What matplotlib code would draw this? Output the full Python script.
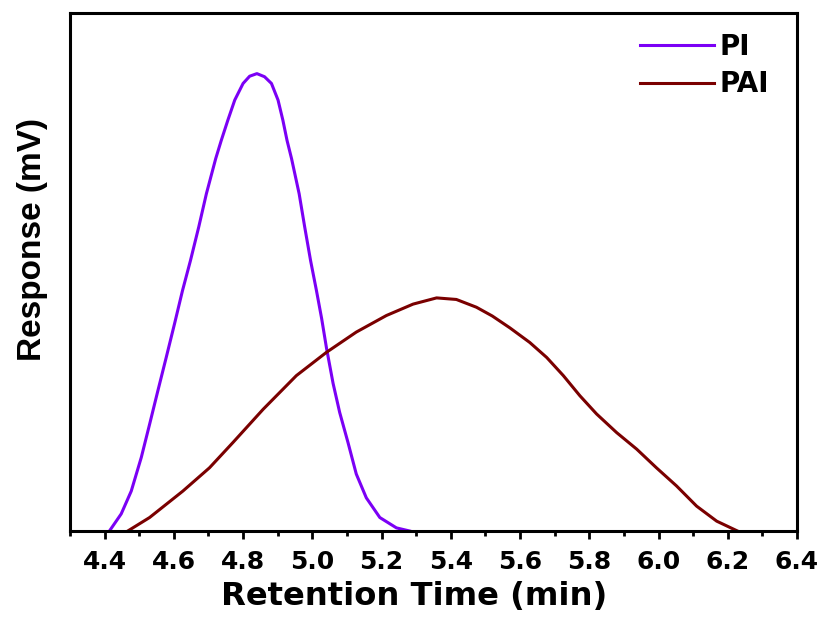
import matplotlib
matplotlib.use("Agg")
import matplotlib.pyplot as plt
from matplotlib.ticker import MultipleLocator

plt.rcParams['font.family'] = ['DejaVu Sans']
plt.rcParams['font.weight'] = 'bold'

# PI curve (retention time in min, response in arbitrary units)
pi_time = [4.414, 4.448, 4.477, 4.506, 4.530, 4.554, 4.578, 4.602, 4.625, 4.648,
           4.672, 4.694, 4.721, 4.737, 4.756, 4.776, 4.800, 4.819, 4.840, 4.862,
           4.882, 4.901, 4.915, 4.927, 4.940, 4.962, 4.978, 4.995, 5.012, 5.027,
           5.041, 5.060, 5.079, 5.103, 5.127, 5.156, 5.195, 5.243, 5.281]
pi_resp = [0.0, 3.3, 7.7, 14.2, 20.6, 27.1, 33.5, 40.0, 46.4, 52.2,
           58.7, 65.1, 71.9, 75.4, 79.3, 83.2, 86.4, 87.8, 88.3, 87.7,
           86.4, 83.2, 79.3, 75.4, 71.9, 65.1, 58.7, 52.2, 46.4, 41.0,
           35.3, 28.5, 22.9, 17.1, 11.0, 6.4, 2.6, 0.6, 0.0]

# PAI curve
pai_time = [4.467, 4.530, 4.626, 4.703, 4.771, 4.858, 4.954, 5.041, 5.127, 5.214,
            5.291, 5.359, 5.416, 5.474, 5.520, 5.571, 5.628, 5.677, 5.725, 5.773,
            5.821, 5.879, 5.937, 5.994, 6.052, 6.110, 6.168, 6.228]
pai_resp = [0.0, 2.6, 7.7, 12.2, 17.1, 23.5, 30.0, 34.5, 38.4, 41.6,
            43.8, 45.0, 44.7, 43.2, 41.5, 39.2, 36.4, 33.5, 30.0, 26.1,
            22.6, 19.0, 15.8, 12.2, 8.7, 4.8, 1.9, 0.0]

fig = plt.figure(figsize=(8.26, 6.17), dpi=100)
ax = fig.add_axes([0.0847, 0.1394, 0.8802, 0.8395])

ax.plot(pi_time, pi_resp, color='#7B00F5', linewidth=2.2, label='PI')
ax.plot(pai_time, pai_resp, color='#7A0000', linewidth=2.2, label='PAI')

ax.set_xlim(4.3, 6.4)
ax.set_ylim(0, 100)
ax.xaxis.set_major_locator(MultipleLocator(0.2))
ax.xaxis.set_minor_locator(MultipleLocator(0.1))
ax.set_yticks([])
ax.tick_params(axis='x', which='major', direction='out', length=6, width=2,
               labelsize=18, pad=8)
ax.tick_params(axis='x', which='minor', direction='out', length=3.5, width=2)
for lbl in ax.get_xticklabels():
    lbl.set_fontweight('bold')
for sp in ax.spines.values():
    sp.set_linewidth(2.2)

ax.set_xlabel('Retention Time (min)', fontsize=23.2, fontweight='bold')
ax.xaxis.set_label_coords(0.473, -0.097)
ax.set_ylabel('Response (mV)', fontsize=24, fontweight='bold',
              family=['Liberation Sans', 'DejaVu Sans'])
ax.yaxis.set_label_coords(-0.03, 0.562)

leg = ax.legend(loc='upper left', bbox_to_anchor=(0.784, 0.962), frameon=False,
                fontsize=20, handlelength=2.65, handletextpad=0.22, borderpad=0,
                borderaxespad=0, labelspacing=0.35)
for t in leg.get_texts():
    t.set_fontweight('bold')

fig.savefig('out.png', dpi=100)
